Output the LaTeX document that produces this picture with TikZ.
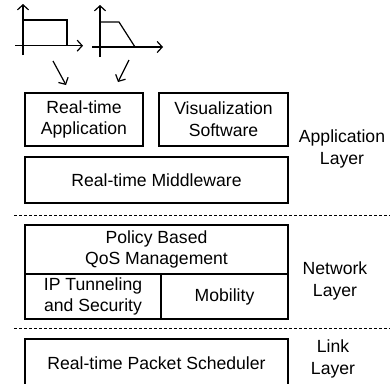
\documentclass[tikz,border=0pt]{standalone}
\usepackage{fontspec}
\setmainfont{Liberation Sans}
\usetikzlibrary{arrows.meta}
\tikzset{
 blk/.style={draw,line width=1.2pt,align=center,inner sep=0pt},
 lyr/.style={align=center},
 axis/.style={line width=1.2pt,-{Straight Barb[length=5pt,width=11pt]}},
 flow/.style={line width=1.2pt,-{Straight Barb[length=5pt,width=11pt]}},
 sep/.style={dash pattern=on 3pt off 2pt,line width=.9pt}
}

\begin{document}
\begin{tikzpicture}[x=1pt,y=-1pt,font=\fontsize{17.6}{21.6}\selectfont]
 \clip (0,0) rectangle (390,383);
 % input profiles
 \draw[axis](23,55)--(23,4);\draw[axis](15,45.7)--(83,45.7);
 \draw[line width=1.2pt](23,20)--(67,20)--(67,45.7);
 \draw[axis](100,57)--(100,5);\draw[axis](92,47)--(163,47);
 \draw[line width=1.2pt](100,22)--(119,22)--(135,47);
 \coordinate (q1) at (53,61);\coordinate (q1e) at (66,85);
 \coordinate (q2) at (129,60);\coordinate (q2e) at (118,82);
 \draw[flow](q1)--(q1e);\draw[flow](q2)--(q2e);
 % application layer
 \node[blk,minimum width=118,minimum height=53](app)at(84,119.5){Real-time\\Application};
 \node[blk,minimum width=129,minimum height=53](vis)at(223.5,119.5){Visualization\\Software};
 \node[blk,minimum width=263,minimum height=46](mid)at(156.5,180){Real-time Middleware};
 \node[lyr](applyr)at(342,149){Application\\Layer};
 \coordinate (s1a) at (14,215);\coordinate (s1b) at (390,215);
 \draw[sep](s1a)--(s1b);
 % network layer
 \node[blk,minimum width=263,minimum height=49](pol)at(156.5,249.5){Policy Based\\QoS Management};
 \node[blk,minimum width=136,minimum height=45](ipt)at(93,296.5){IP Tunneling\\and Security};
 \node[blk,minimum width=127,minimum height=45](mob)at(224.5,296.5){Mobility};
 \node[lyr](netlyr)at(335,281){Network\\Layer};
 \coordinate (s2a) at (14,328);\coordinate (s2b) at (390,328);
 \draw[sep](s2a)--(s2b);
 % link layer
 \node[blk,minimum width=263,minimum height=49](sch)at(156.5,363.5){Real-time Packet Scheduler};
 \node[lyr](lnklyr)at(333,359){Link\\Layer};
\end{tikzpicture}
\end{document}
